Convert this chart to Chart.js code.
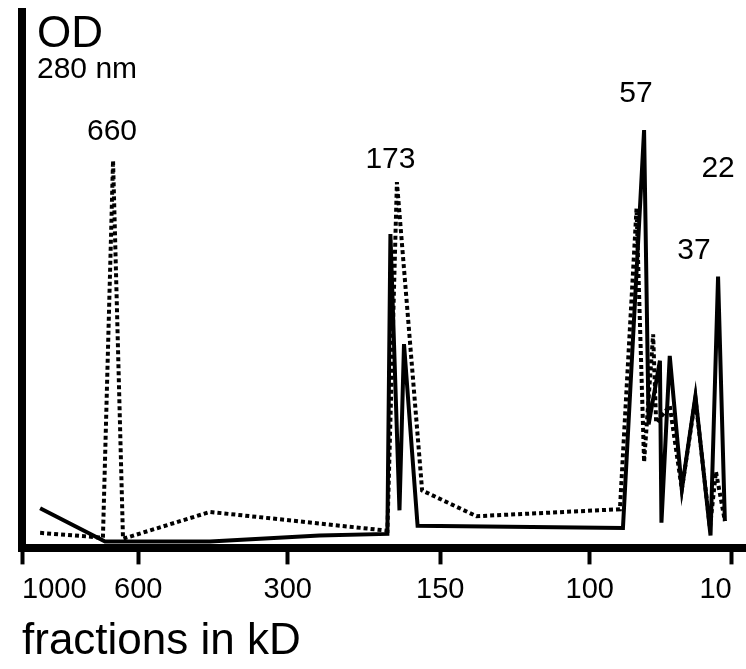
<!DOCTYPE html>
<html>
<head>
<meta charset="utf-8">
<script src="https://cdn.jsdelivr.net/npm/chart.js@4/dist/chart.umd.min.js"></script>
<style>
  html, body { margin: 0; padding: 0; background: #fff; }
  #wrap { width: 746px; height: 669px; }
</style>
</head>
<body>
<div id="wrap"><canvas id="odChart"></canvas></div>
<script>
// x axis ticks (elution position -> size marker in kD)
const tickPos = [0, 7.7, 17.6, 27.7, 37.6, 47];
const tickLabels = ['1000', '600', '300', '150', '100', '10'];

// solid trace
const solidX = [1.2, 5.5, 12.45, 19.7, 24.2, 24.4, 25.0, 25.3, 26.2, 39.8, 41.2, 41.5, 42.25, 42.35, 42.9, 43.7, 44.6, 45.6, 46.1, 46.55];
const solidY = [7.5, 1.3, 1.3, 2.4, 2.7, 58.6, 7.1, 38.1, 4.2, 3.8, 78.0, 23.1, 35.0, 4.8, 35.9, 11.0, 28.4, 2.4, 50.7, 5.1];

// dotted trace
const dottedX = [1.2, 5.36, 6.03, 6.69, 12.45, 24.2, 24.83, 26.5, 30.1, 39.6, 40.7, 41.2, 41.8, 42.0, 42.9, 43.7, 44.6, 45.56, 45.96, 46.55];
const dottedY = [2.9, 2.0, 72.3, 1.8, 6.8, 3.3, 68.3, 10.8, 6.0, 7.3, 63.4, 16.1, 39.9, 23.4, 26.6, 11.0, 28.0, 3.8, 14.3, 5.1];

// peak markers
const peakLabels = ['660', '173', '57', '37', '22'];
const peakX = [5.96, 24.4, 40.66, 44.5, 46.1];
const peakY = [76.2, 70.9, 83.3, 54.0, 69.2];

const FONT = '"Liberation Sans", Arial, sans-serif';

function toPoints(xs, ys) {
    return xs.map((x, i) => ({ x: x, y: ys[i] }));
}

const labelPlugin = {
    id: 'labels',
    afterDraw(chart) {
        const ctx = chart.ctx;
        const xs = chart.scales.x;
        const ys = chart.scales.y;
        ctx.save();
        ctx.fillStyle = '#000';
        ctx.textBaseline = 'alphabetic';
        ctx.textAlign = 'left';
        ctx.font = '44px ' + FONT;
        ctx.fillText('OD', 37, 47);
        ctx.font = '30px ' + FONT;
        ctx.fillText('280 nm', 37, 78);
        ctx.textAlign = 'center';
        peakLabels.forEach((t, i) => {
            ctx.fillText(t, xs.getPixelForValue(peakX[i]), ys.getPixelForValue(peakY[i]));
        });
        ctx.restore();
    }
};

new Chart(document.getElementById('odChart'), {
    type: 'line',
    data: {
        datasets: [
            {
                label: 'solid',
                data: toPoints(solidX, solidY),
                borderColor: '#000',
                borderWidth: 4,
                pointRadius: 0,
                tension: 0,
                borderJoinStyle: 'miter'
            },
            {
                label: 'dotted',
                data: toPoints(dottedX, dottedY),
                borderColor: '#000',
                borderWidth: 4,
                borderDash: [4, 3],
                pointRadius: 0,
                tension: 0,
                borderJoinStyle: 'miter'
            }
        ]
    },
    options: {
        responsive: true,
        maintainAspectRatio: false,
        animation: false,
        layout: { padding: { left: 22, top: 12, right: 0, bottom: 0 } },
        plugins: { legend: { display: false }, tooltip: { enabled: false } },
        scales: {
            x: {
                type: 'linear',
                min: 0,
                max: 47.95,
                afterBuildTicks: (scale) => {
                    scale.ticks = tickPos.map(v => ({ value: v }));
                },
                ticks: {
                    align: 'inner',
                    color: '#000',
                    padding: 8,
                    font: { family: FONT, size: 29 },
                    callback: (value, index) => tickLabels[index]
                },
                grid: {
                    drawOnChartArea: false,
                    drawTicks: true,
                    tickLength: 16,
                    tickWidth: 4,
                    tickColor: '#000'
                },
                border: { display: true, color: '#000', width: 8 },
                title: {
                    display: true,
                    text: 'fractions in kD',
                    align: 'start',
                    color: '#000',
                    font: { family: FONT, size: 44 },
                    padding: { top: 0, bottom: 1 }
                }
            },
            y: {
                type: 'linear',
                min: 0,
                max: 100,
                ticks: { display: false },
                grid: { display: false, drawTicks: false },
                border: { display: true, color: '#000', width: 8 }
            }
        }
    },
    plugins: [labelPlugin]
});
</script>
</body>
</html>
